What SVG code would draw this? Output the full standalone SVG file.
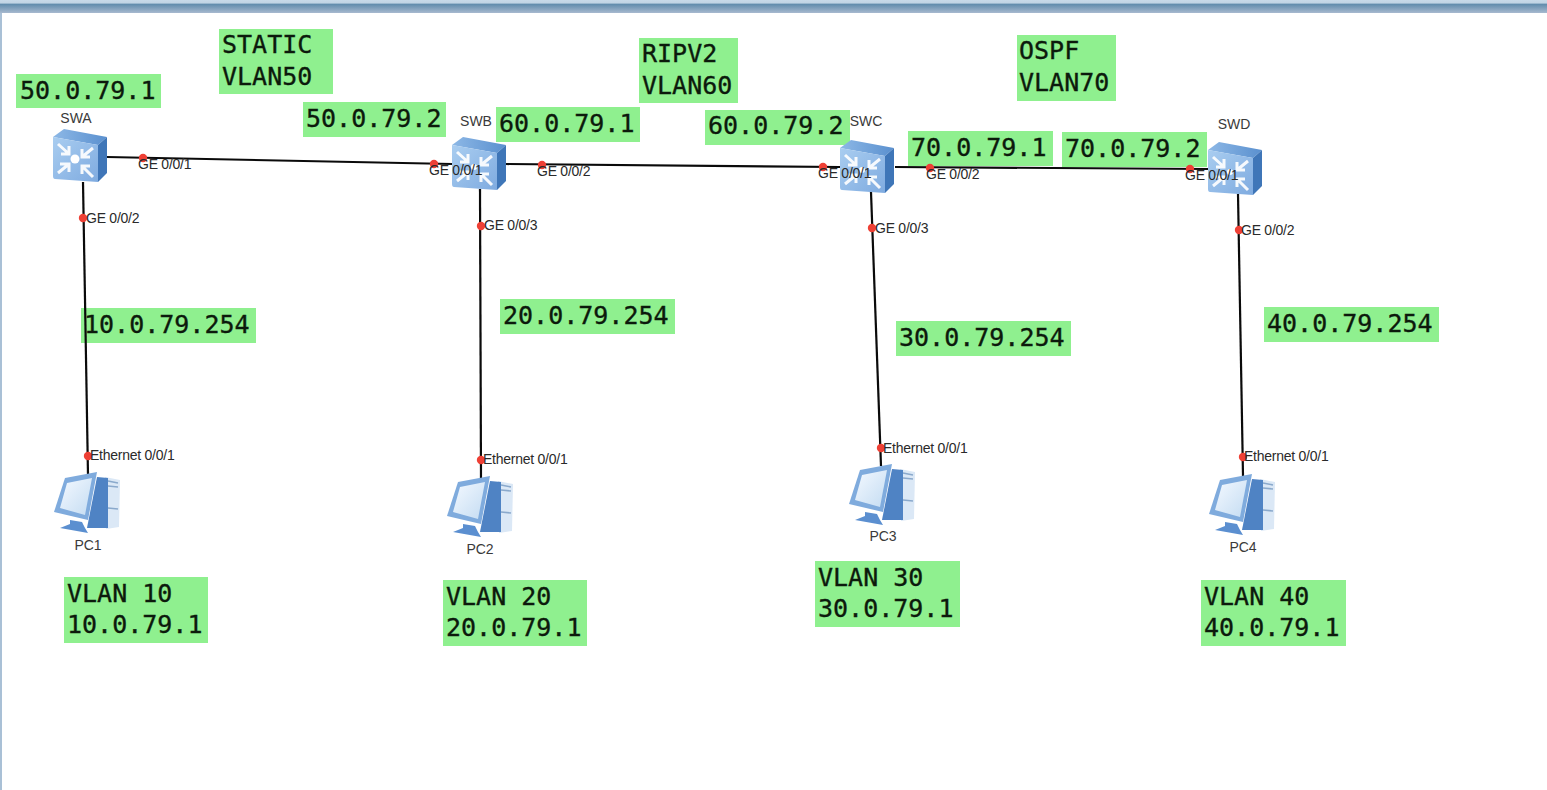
<svg xmlns="http://www.w3.org/2000/svg" width="1547" height="790" viewBox="0 0 1547 790">
<style>
.lbl{fill:#8ff08f}
.mono{font-family:"DejaVu Sans Mono","Liberation Mono",monospace;font-size:25px;fill:#0c1a0c;stroke:#0c1a0c;stroke-width:.35}
.sm{font-family:"Liberation Sans",Arial,sans-serif;font-size:14px;fill:#2a2a2a;letter-spacing:-.25px}
.nm{font-family:"Liberation Sans",Arial,sans-serif;font-size:14px;fill:#3a3a3a;text-anchor:middle}
.ln{stroke:#0a0a0a;stroke-width:2.2;fill:none}
.pt{fill:#ee4035}
.ar{stroke:#fff;stroke-width:3;fill:none;opacity:.92}
</style>
<defs>
<linearGradient id="bar" x1="0" y1="0" x2="0" y2="1"><stop offset="0" stop-color="#c8dae8"/><stop offset=".25" stop-color="#c0d4e4"/><stop offset=".3" stop-color="#5f8bab"/><stop offset="1" stop-color="#a7b9cf"/></linearGradient>
<linearGradient id="face" x1="0" y1="0" x2="1" y2="1"><stop offset="0" stop-color="#a9cdf0"/><stop offset="1" stop-color="#7fabe0"/></linearGradient>
<linearGradient id="top" x1="0" y1="0" x2="1" y2="0"><stop offset="0" stop-color="#8db8e6"/><stop offset="1" stop-color="#5a90cf"/></linearGradient>
<linearGradient id="screen" x1="0" y1="0" x2="1" y2="1"><stop offset="0" stop-color="#f4f9ff"/><stop offset="1" stop-color="#c4dcf2"/></linearGradient>
<symbol id="sw" width="55" height="54" viewBox="0 0 55 54" overflow="visible">
<path d="M0 8 L11 0 L54 8 L45 16 Z" fill="url(#top)"/>
<path d="M45 16 L54 8 L54 44 L45 53 Z" fill="#3f76b8"/>
<path d="M0 8 L45 16 L45 53 L2 50 Q0 50 0 47 Z" fill="url(#face)"/>
<g class="ar"><path d="M5 15 L16 25 M16 17 V25 H8"/><path d="M40 19 L29 28 M29 20 V28 H37"/><path d="M5 44 L16 35 M7 35 H16 V43"/><path d="M40 48 L29 37 M37 37 H29 V45"/></g>
</symbol>
<symbol id="pc" width="66" height="62" viewBox="0 0 66 62" overflow="visible">
<path d="M50 5 L65 8 L64 55 L51 57 Z" fill="#dbe8f6"/>
<path d="M42 5 L53 6 L53 56 L32 56 Z" fill="#4f83c4"/>
<path d="M53 9 L63 11 M53 14 L63 15 M53 36 L63 37" stroke="#8aa9cc" stroke-width="1.6" fill="none"/>
<path d="M15 48 L27 50 L30 56 L33 61 L5 56 L15 52 Z" fill="#5b8fd0"/>
<path d="M10 6 L42 0 L33 48 L-1 40 Z" fill="#7fabdd"/>
<path d="M12 11 L37 6 L30 43 L5 36 Z" fill="url(#screen)"/>
</symbol>
</defs>
<rect width="1547" height="790" fill="#fff"/>
<g id="window-frame">
<rect x="0" y="0" width="1547" height="13" fill="url(#bar)"/>
<rect x="0" y="13" width="2" height="777" fill="#a9c0d6"/>
</g>
<g id="lbl-50-1"><rect class="lbl" x="16" y="74" width="145" height="34"/><text class="mono" x="20" y="99">50.0.79.1</text></g>
<g id="lbl-static"><rect class="lbl" x="219" y="29" width="114" height="65"/><text class="mono" x="222" y="53">STATIC</text><text class="mono" x="222" y="85">VLAN50</text></g>
<g id="lbl-50-2"><rect class="lbl" x="303" y="102" width="143" height="35"/><text class="mono" x="306" y="127">50.0.79.2</text></g>
<g id="lbl-60-1"><rect class="lbl" x="496" y="107" width="144" height="35"/><text class="mono" x="499" y="132">60.0.79.1</text></g>
<g id="lbl-rip"><rect class="lbl" x="639" y="38" width="99" height="65"/><text class="mono" x="642" y="62">RIPV2</text><text class="mono" x="642" y="94">VLAN60</text></g>
<g id="lbl-60-2"><rect class="lbl" x="705" y="110" width="145" height="35"/><text class="mono" x="708" y="134">60.0.79.2</text></g>
<g id="lbl-70-1"><rect class="lbl" x="908" y="131" width="145" height="35"/><text class="mono" x="911" y="156">70.0.79.1</text></g>
<g id="lbl-ospf"><rect class="lbl" x="1017" y="35" width="99" height="66"/><text class="mono" x="1019" y="59">OSPF</text><text class="mono" x="1019" y="91">VLAN70</text></g>
<g id="lbl-70-2"><rect class="lbl" x="1062" y="132" width="145" height="35"/><text class="mono" x="1065" y="157">70.0.79.2</text></g>
<g id="lbl-10-254"><rect class="lbl" x="81" y="308" width="175" height="35"/><text class="mono" x="84" y="333">10.0.79.254</text></g>
<g id="lbl-20-254"><rect class="lbl" x="500" y="299" width="175" height="35"/><text class="mono" x="503" y="324">20.0.79.254</text></g>
<g id="lbl-30-254"><rect class="lbl" x="896" y="321" width="175" height="35"/><text class="mono" x="899" y="346">30.0.79.254</text></g>
<g id="lbl-40-254"><rect class="lbl" x="1264" y="307" width="175" height="35"/><text class="mono" x="1267" y="332">40.0.79.254</text></g>
<g id="lbl-vlan10"><rect class="lbl" x="64" y="577" width="144" height="66"/><text class="mono" x="67" y="602">VLAN 10</text><text class="mono" x="67" y="633">10.0.79.1</text></g>
<g id="lbl-vlan20"><rect class="lbl" x="443" y="580" width="144" height="66"/><text class="mono" x="446" y="605">VLAN 20</text><text class="mono" x="446" y="636">20.0.79.1</text></g>
<g id="lbl-vlan30"><rect class="lbl" x="815" y="561" width="145" height="66"/><text class="mono" x="818" y="586">VLAN 30</text><text class="mono" x="818" y="617">30.0.79.1</text></g>
<g id="lbl-vlan40"><rect class="lbl" x="1201" y="580" width="145" height="66"/><text class="mono" x="1204" y="605">VLAN 40</text><text class="mono" x="1204" y="636">40.0.79.1</text></g>
<g id="connectors">
<path class="ln" d="M107 157 L452 164"/>
<path class="ln" d="M506 164 L840 167"/>
<path class="ln" d="M895 167 L1208 169"/>
<path class="ln" d="M83 182 L88 475"/>
<path class="ln" d="M480 189 L481 478"/>
<path class="ln" d="M871 192 L881 466"/>
<path class="ln" d="M1238 194 L1243 476"/>
<g class="pt">
<circle cx="143" cy="158" r="4.2"/><circle cx="434" cy="164" r="4.2"/><circle cx="542" cy="165" r="4.2"/><circle cx="823" cy="167" r="4.2"/><circle cx="930" cy="168" r="4.2"/><circle cx="1190" cy="169" r="4.2"/>
<circle cx="83" cy="218" r="4.2"/><circle cx="481" cy="226" r="4.2"/><circle cx="872" cy="228" r="4.2"/><circle cx="1239" cy="230" r="4.2"/>
<circle cx="88" cy="456" r="4.2"/><circle cx="481" cy="460" r="4.2"/><circle cx="881" cy="448" r="4.2"/><circle cx="1243" cy="457" r="4.2"/>
</g>
</g>
<g id="SWA"><use href="#sw" x="53" y="129"/><circle cx="75" cy="159" r="4.5" fill="#fff"/><text class="nm" x="76" y="123">SWA</text></g>
<g id="SWB"><use href="#sw" x="452" y="137"/><circle cx="474" cy="167" r="3" fill="#fff"/><text class="nm" x="476" y="126">SWB</text></g>
<g id="SWC"><use href="#sw" x="840" y="140"/><circle cx="862" cy="170" r="3" fill="#fff"/><text class="nm" x="866" y="126">SWC</text></g>
<g id="SWD"><use href="#sw" x="1208" y="142"/><circle cx="1230" cy="172" r="3" fill="#fff"/><text class="nm" x="1234" y="129">SWD</text></g>
<g id="PC1"><use href="#pc" x="55" y="472"/><text class="nm" x="88" y="550">PC1</text></g>
<g id="PC2"><use href="#pc" x="448" y="476"/><text class="nm" x="480" y="554">PC2</text></g>
<g id="PC3"><use href="#pc" x="850" y="464"/><text class="nm" x="883" y="541">PC3</text></g>
<g id="PC4"><use href="#pc" x="1210" y="474"/><text class="nm" x="1243" y="552">PC4</text></g>
<g id="port-labels">
<text class="sm" x="138" y="169">GE 0/0/1</text><text class="sm" x="429" y="175">GE 0/0/1</text><text class="sm" x="537" y="176">GE 0/0/2</text><text class="sm" x="818" y="178">GE 0/0/1</text><text class="sm" x="926" y="179">GE 0/0/2</text><text class="sm" x="1185" y="180">GE 0/0/1</text>
<text class="sm" x="86" y="223">GE 0/0/2</text><text class="sm" x="484" y="230">GE 0/0/3</text><text class="sm" x="875" y="233">GE 0/0/3</text><text class="sm" x="1241" y="235">GE 0/0/2</text>
<text class="sm" x="90" y="460">Ethernet 0/0/1</text><text class="sm" x="483" y="464">Ethernet 0/0/1</text><text class="sm" x="883" y="453">Ethernet 0/0/1</text><text class="sm" x="1244" y="461">Ethernet 0/0/1</text>
</g>
</svg>
